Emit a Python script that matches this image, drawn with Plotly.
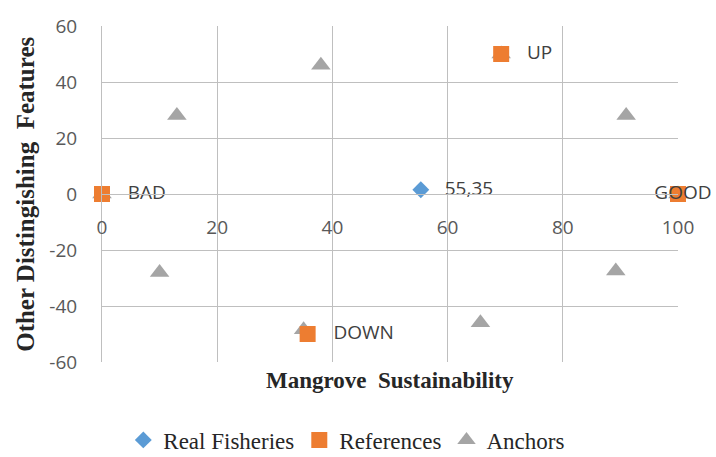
import plotly.graph_objects as go

# Data
real_x = [55.35]
real_y = [1.5]
real_labels = ["55,35"]

ref_x = [0, 100, 69.3, 35.7]
ref_y = [0, 0, 50, -50]
ref_labels = ["BAD", "GOOD", "UP", "DOWN"]

anchor_x = [0, 13, 38, 69.3, 91, 100, 89.2, 65.7, 35, 10]
anchor_y = [0, 28, 46, 50, 28, 0, -27.5, -46, -48.5, -28]

x_ticks = [0, 20, 40, 60, 80, 100]
y_ticks = [-60, -40, -20, 0, 20, 40, 60]
y_tick_text = ["-60", "-40", "-20", "0", "20", "40", "60"]

label_font = dict(family="Open Sans, Liberation Sans, sans-serif", size=19, color="#404040")
tick_font = dict(family="Open Sans, sans-serif", size=19, color="#595959")
serif = "Liberation Serif, Times New Roman, serif"

fig = go.Figure()
fig.add_trace(go.Scatter(
    x=anchor_x, y=anchor_y, mode="markers", name="Anchors",
    marker=dict(symbol="triangle-up", size=17, color="#A5A5A5"),
    legendrank=3, cliponaxis=False,
))
fig.add_trace(go.Scatter(
    x=ref_x, y=ref_y, mode="markers+text", name="References",
    text=ref_labels,
    texttemplate=["   %{text}", "  %{text}", "   %{text}", "   %{text}"],
    textposition=["middle right", "middle center", "middle right", "middle right"],
    textfont=label_font,
    marker=dict(symbol="square", size=16, color="#ED7D31"),
    legendrank=2, cliponaxis=False,
))
fig.add_trace(go.Scatter(
    x=real_x, y=real_y, mode="markers+text", name="Real Fisheries",
    text=real_labels, texttemplate="   %{text}", textposition="middle right", textfont=label_font,
    marker=dict(symbol="diamond", size=13, color="#5B9BD5"),
    legendrank=1, cliponaxis=False,
))

grid = "#BFBFBF"
fig.update_layout(
    width=716, height=457,
    margin=dict(l=102, r=38, t=26, b=95, autoexpand=False),
    plot_bgcolor="white", paper_bgcolor="white",
    showlegend=True,
    legend=dict(orientation="h", x=0.425, xanchor="center", y=-0.232, yanchor="middle",
                font=dict(family=serif, size=23, color="#262626"),
                itemwidth=30, tracegroupgap=0),
    xaxis=dict(range=[0, 100], tickvals=x_ticks, showgrid=True, gridcolor=grid, gridwidth=1,
               zeroline=False, showline=True, linecolor=grid, anchor="free", position=0.5,
               ticks="outside", ticklen=16, tickcolor="rgba(0,0,0,0)",
               tickfont=tick_font),
    yaxis=dict(range=[-60, 60], tickvals=y_ticks, ticktext=y_tick_text, showgrid=True,
               gridcolor=grid, gridwidth=1,
               zeroline=False, showline=True, linecolor=grid,
               ticks="outside", ticklen=20, tickcolor="rgba(0,0,0,0)",
               tickfont=tick_font),
    annotations=[
        dict(text="<b>Mangrove  Sustainability</b>", xref="paper", yref="paper", x=0.5, y=-0.055,
             xanchor="center", yanchor="middle", showarrow=False,
             font=dict(family=serif, size=23, color="#262626")),
        dict(text="<b>Other Distingishing  Features</b>", xref="paper", yref="paper", x=-0.134, y=0.5,
             xanchor="center", yanchor="middle", textangle=-90, showarrow=False,
             font=dict(family=serif, size=25, color="#262626")),
    ],
)
fig.write_html("out.html")
